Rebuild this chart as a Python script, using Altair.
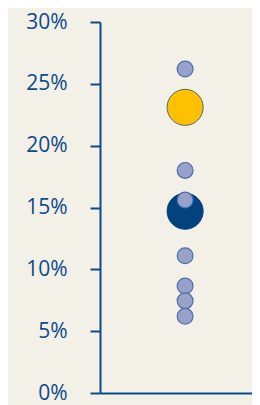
import altair as alt
import pandas as pd

# Data (percent values)
small_values = [26.2, 18.0, 15.6, 11.1, 8.65, 7.45, 6.2]
big_values = [23.1, 14.7]
big_kind = ["highlight", "main"]
tick_values = [0, 5, 10, 15, 20, 25, 30]

BLUE = "#0d4a8a"
BG = "#f3f0e8"

small_df = pd.DataFrame({"g": [0] * len(small_values), "v": [v / 100 for v in small_values]})
big_df = pd.DataFrame({"g": [0] * len(big_values), "v": [v / 100 for v in big_values], "kind": big_kind})

x_enc = alt.X("g:Q", scale=alt.Scale(domain=[-1.12, 0.88]),
              axis=alt.Axis(labels=False, ticks=False, title=None, grid=False,
                            domainColor=BLUE, domainWidth=2))
y_scale = alt.Scale(domain=[0, 0.30], nice=False)
y_axis = alt.Axis(values=[t / 100 for t in tick_values], format=".0%", title=None, grid=False,
                  domainColor=BLUE, domainWidth=2, tickColor=BLUE, tickWidth=2, tickSize=10,
                  labelColor=BLUE, labelFont="Open Sans", labelFontSize=21, labelFontWeight=500,
                  labelPadding=23)

big = alt.Chart(big_df).mark_point(filled=True, opacity=1, strokeWidth=1).encode(
    x=x_enc,
    y=alt.Y("v:Q", scale=y_scale, axis=y_axis),
    fill=alt.Fill("kind:N", scale=alt.Scale(domain=big_kind, range=["#ffc000", "#00437f"]), legend=None),
    stroke=alt.Stroke("kind:N", scale=alt.Scale(domain=big_kind, range=["#52696b", "#00437f"]), legend=None),
    size=alt.value(1300),
)

small = alt.Chart(small_df).mark_point(filled=True, opacity=1, fill="#97a2ca", stroke="#4a6ea6",
                                        strokeWidth=1.2, size=250).encode(
    x=x_enc,
    y=alt.Y("v:Q", scale=y_scale, axis=y_axis),
)

chart = alt.layer(big, small).properties(
    width=152, height=371,
    background=BG,
    padding={"left": 92, "top": 14, "right": 0, "bottom": 12},
    autosize=alt.AutoSizeParams(type="none"),
).configure_view(stroke=None)

chart.save("out.html", embed_options={"renderer": "svg", "actions": False})
